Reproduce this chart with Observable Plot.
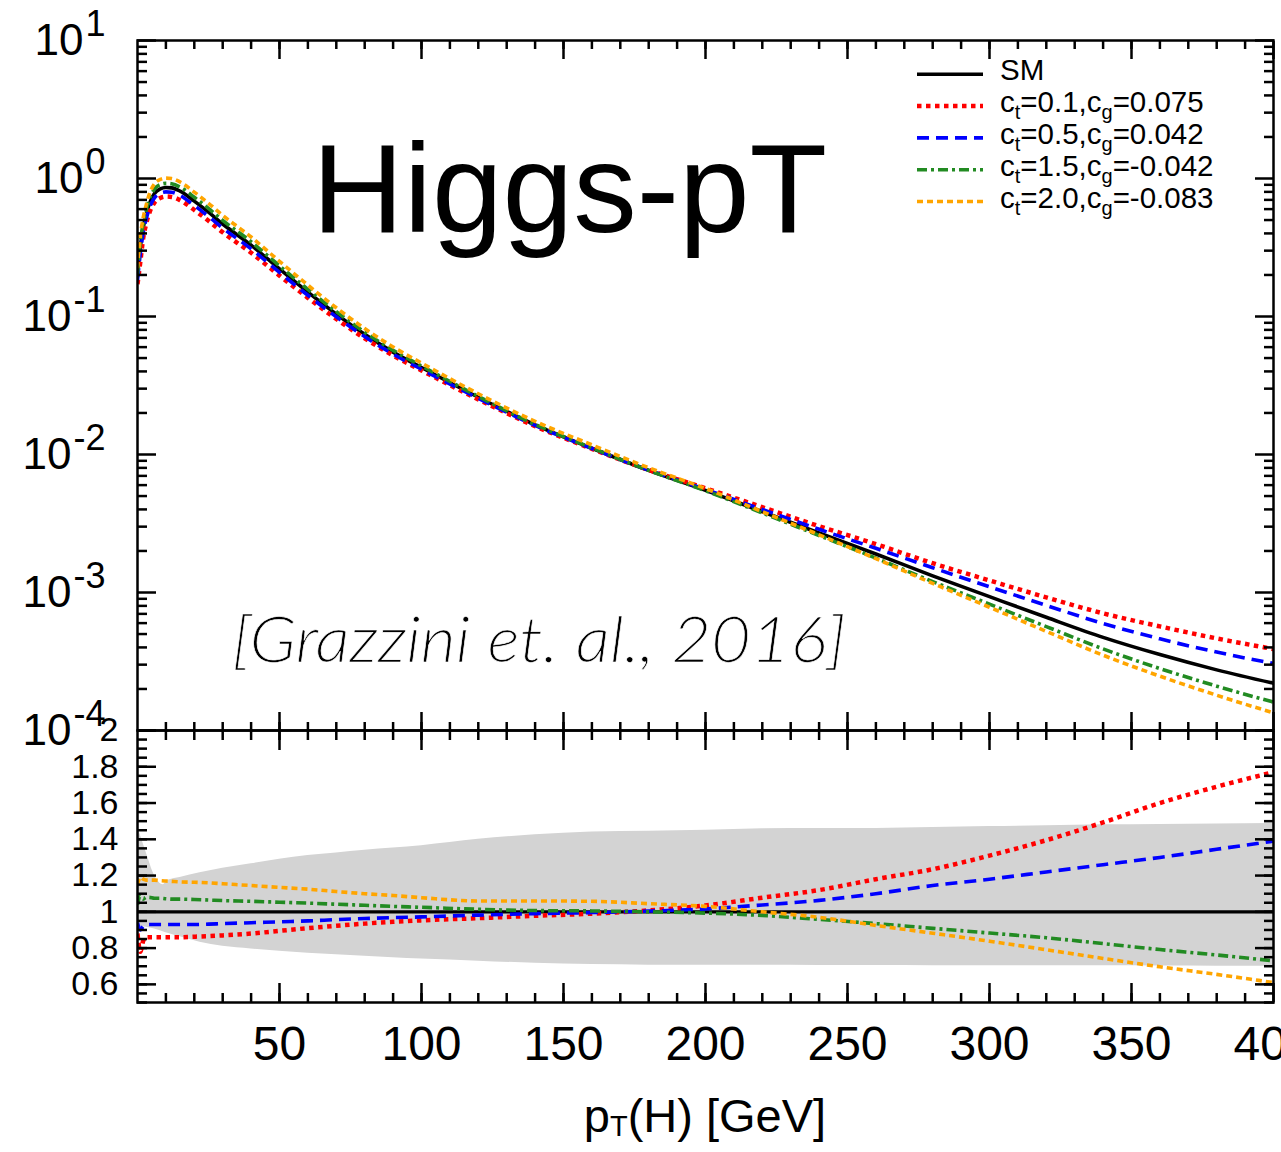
<!DOCTYPE html>
<html><head><meta charset="utf-8">
<script src="https://cdn.jsdelivr.net/npm/d3@7"></script>
<script src="https://cdn.jsdelivr.net/npm/@observablehq/plot@0.6"></script>
<style>
html,body{margin:0;padding:0;background:#fff;}
#wrap{position:relative;width:1281px;height:1152px;overflow:hidden;}
#wrap svg{position:absolute;left:0;}
</style></head><body><div id="wrap"></div>
<script>
// ---------- data ----------
const pT = [0,1,2,3,4,6,8,10,12,15,20,25,30,40,50,60,70,80,90,100,120,140,160,180,200,220,240,260,280,300,320,340,360,380,400];
const smXsec = [0.195,0.32,0.44,0.54,0.64,0.78,0.84,0.86,0.855,0.81,0.685,0.57,0.468,0.329,0.221,0.150,0.104,0.0743,0.0552,0.0427,0.0260,0.0164,0.0111,0.00767,0.0055,0.00385,0.0027,0.0019,0.00132,0.000933,0.000661,0.000473,0.000355,0.000275,0.00022];
const ratioRed = [0.88,0.78,0.84,0.86,0.86,0.86,0.86,0.86,0.86,0.86,0.863,0.866,0.87,0.88,0.895,0.91,0.923,0.935,0.945,0.953,0.965,0.978,0.99,1.008,1.035,1.078,1.12,1.18,1.235,1.31,1.395,1.493,1.6,1.69,1.77];
const ratioBlue = [0.94,0.9,0.92,0.93,0.93,0.93,0.93,0.93,0.93,0.93,0.93,0.932,0.935,0.94,0.945,0.95,0.957,0.963,0.968,0.972,0.982,0.99,0.996,1.004,1.016,1.038,1.063,1.10,1.145,1.18,1.22,1.26,1.3,1.345,1.39];
const ratioGreen = [1.04,1.09,1.07,1.08,1.08,1.075,1.075,1.072,1.07,1.07,1.068,1.065,1.062,1.058,1.053,1.048,1.042,1.036,1.03,1.025,1.014,1.007,1.005,1.0,0.993,0.98,0.958,0.935,0.909,0.883,0.857,0.825,0.792,0.762,0.73];
const ratioOrange = [1.15,1.19,1.18,1.175,1.175,1.175,1.172,1.17,1.168,1.165,1.163,1.16,1.155,1.145,1.135,1.125,1.112,1.1,1.09,1.078,1.06,1.06,1.058,1.045,1.03,1.0,0.97,0.925,0.882,0.838,0.791,0.743,0.697,0.655,0.61];

const bandPt = [0,3,6,9,11,15,22,30,40,50,60,70,80,90,100,120,140,160,180,200,220,240,260,280,300,320,340,360,380,400];
const bandHi = [1.47,1.33,1.2,1.15,1.175,1.19,1.215,1.24,1.265,1.29,1.31,1.325,1.34,1.352,1.365,1.4,1.425,1.44,1.445,1.45,1.458,1.46,1.46,1.465,1.47,1.475,1.48,1.482,1.485,1.487];
const bandLo = [0.92,0.915,0.905,0.89,0.88,0.862,0.832,0.81,0.795,0.782,0.772,0.763,0.755,0.747,0.74,0.728,0.716,0.709,0.706,0.705,0.705,0.704,0.704,0.703,0.703,0.702,0.702,0.701,0.70,0.70];

const ctVals = ["0.1","0.5","1.5","2.0"];
const cgVals = ["0.075","0.042","-0.042","-0.083"];

const xMajor = [50,100,150,200,250,300,350,400];
const yMajorTop = [1e-4,1e-3,1e-2,1e-1,1,10];
const yMajorBot = [0.6,0.8,1,1.2,1.4,1.6,1.8,2];
const xMinor = d3.range(10, 400, 10);
const yMinorTop = [-4,-3,-2,-1,0].flatMap(e => [2,3,4,5,6,7,8,9].map(k => k * Math.pow(10, e)));
const yMinorBot = d3.range(0.5, 2.001, 0.05);

// ---------- styles ----------
const FONT = '"Liberation Sans", Arial, Helvetica, sans-serif';
const W = 1281;
const styles = [
  {name: "red",    ratio: ratioRed,    color: "#ff0000", dash: "4.5,4.5",  width: 4.5},
  {name: "blue",   ratio: ratioBlue,   color: "#0000ff", dash: "12,7",     width: 3.6},
  {name: "green",  ratio: ratioGreen,  color: "#228b22", dash: "10,4,3,4", width: 3.6},
  {name: "orange", ratio: ratioOrange, color: "#ffa500", dash: "6,4",      width: 3.6}
];

const smRows = pT.map((x, i) => ({x, y: smXsec[i]}));
const bandRows = bandPt.map((x, i) => ({x, lo: bandLo[i], hi: bandHi[i]}));

function frameAxes(yMajor, yMinor, major, minor, sideMajor, sideMinor) {
  const tf = () => "";
  const o = {strokeWidth: 2.5, tickFormat: tf, fontSize: 1};
  return [
    Plot.frame({stroke: "black", strokeWidth: 2.5}),
    Plot.axisX({...o, anchor: "top", ticks: xMajor, tickSize: -major}),
    Plot.axisX({...o, anchor: "top", ticks: xMinor, tickSize: -minor}),
    Plot.axisX({...o, anchor: "bottom", ticks: xMajor, tickSize: -major}),
    Plot.axisX({...o, anchor: "bottom", ticks: xMinor, tickSize: -minor}),
    Plot.axisY({...o, anchor: "left", ticks: yMajor, tickSize: -sideMajor}),
    Plot.axisY({...o, anchor: "left", ticks: yMinor, tickSize: -sideMinor}),
    Plot.axisY({...o, anchor: "right", ticks: yMajor, tickSize: -sideMajor}),
    Plot.axisY({...o, anchor: "right", ticks: yMinor, tickSize: -sideMinor})
  ];
}

// ---------- top panel ----------
const topPlot = Plot.plot({
  width: W, height: 732, marginTop: 40, marginBottom: 2, marginLeft: 137, marginRight: 8,
  style: {background: "transparent", overflow: "visible", fontFamily: FONT, color: "black"},
  x: {domain: [0, 400], label: null},
  y: {type: "log", domain: [1e-4, 10], label: null},
  marks: [
    Plot.line(smRows, {x: "x", y: "y", stroke: "black", strokeWidth: 3.6, curve: "monotone-x", clip: true}),
    ...styles.map(s => Plot.line(pT.map((x, i) => ({x, y: smXsec[i] * s.ratio[i]})), {
      x: "x", y: "y", stroke: s.color, strokeWidth: s.width, strokeDasharray: s.dash,
      strokeLinecap: "butt", curve: "monotone-x", clip: true})),
    ...frameAxes(yMajorTop, yMinorTop, 18, 8, 19, 10),
    Plot.axisY({anchor: "left", ticks: yMajorTop, tickSize: 0, tickPadding: 32, fontSize: 44,
      tickFormat: d => String(Math.round(Math.log10(d)))})
  ]
});

// ---------- bottom (ratio) panel ----------
const botPlot = Plot.plot({
  width: W, height: 424, marginTop: 2, marginBottom: 150, marginLeft: 137, marginRight: 8,
  style: {background: "transparent", overflow: "visible", fontFamily: FONT, color: "black"},
  x: {domain: [0, 400], label: null},
  y: {domain: [0.5, 2], label: null},
  marks: [
    Plot.areaY(bandRows, {x: "x", y1: "lo", y2: "hi", fill: "#d3d3d3", curve: "monotone-x"}),
    Plot.ruleY([1], {stroke: "black", strokeWidth: 3.4}),
    ...styles.map(s => Plot.line(pT.map((x, i) => ({x, y: s.ratio[i]})), {
      x: "x", y: "y", stroke: s.color, strokeWidth: s.width, strokeDasharray: s.dash,
      strokeLinecap: "butt", curve: "monotone-x", clip: true})),
    ...frameAxes(yMajorBot, yMinorBot, 19, 9, 19, 10),
    Plot.axisY({anchor: "left", ticks: yMajorBot, tickSize: 0, tickPadding: 19, fontSize: 34,
      tickFormat: d => String(+d.toFixed(1))}),
    Plot.axisX({anchor: "bottom", ticks: xMajor, tickSize: 0, tickPadding: 23, fontSize: 48})
  ]
});

const wrap = document.getElementById("wrap");
topPlot.style.top = "0px";
botPlot.style.top = "728px";
wrap.appendChild(topPlot);
wrap.appendChild(botPlot);

// powers of ten on the log axis
d3.select(topPlot).selectAll('g[aria-label="y-axis tick label"] text').each(function () {
  const e = this.textContent;
  if (!e) return;
  const t = d3.select(this);
  t.text("10");
  t.append("tspan").attr("dx", 2).attr("dy", -19).attr("font-size", 36).text(e);
});

// ---------- annotations, legend, axis title ----------
const ov = d3.create("svg").attr("width", W).attr("height", 1152)
  .style("top", "0px").style("font-family", FONT).style("pointer-events", "none");

ov.append("text").attr("x", 312).attr("y", 232).attr("font-size", 127).attr("fill", "black").text("Higgs-pT");
ov.append("text").attr("x", 232).attr("y", 662).attr("font-size", 64)
  .attr("font-style", "italic").attr("font-weight", 300)
  .attr("font-family", "'Lato Light', Lato, 'Open Sans', sans-serif")
  .attr("fill", "black").attr("stroke", "white").attr("stroke-width", 0.6)
  .attr("textLength", 614).attr("lengthAdjust", "spacingAndGlyphs")
  .text("[Grazzini et. al., 2016]");

const legendItems = [{color: "black", dash: null, width: 3.4}].concat(
  styles.map((s, i) => ({color: s.color, dash: s.dash, width: s.width, ct: ctVals[i], cg: cgVals[i]})));
legendItems.forEach((it, i) => {
  const ly = 74.3 + 31.8 * i;
  const ln = ov.append("line").attr("x1", 917).attr("x2", 983).attr("y1", ly).attr("y2", ly)
    .attr("stroke", it.color).attr("stroke-width", it.width);
  if (it.dash) ln.attr("stroke-dasharray", it.dash);
  const t = ov.append("text").attr("x", 1000).attr("y", ly + 6).attr("font-size", 29.5).attr("fill", "black");
  if (i === 0) { t.text("SM"); return; }
  t.append("tspan").text("c");
  t.append("tspan").attr("font-size", 20).attr("dy", 7).text("t");
  t.append("tspan").attr("dy", -7).text("=" + it.ct + ",c");
  t.append("tspan").attr("font-size", 20).attr("dy", 7).text("g");
  t.append("tspan").attr("dy", -7).text("=" + it.cg);
});

const xl = ov.append("text").attr("x", 705).attr("y", 1132).attr("font-size", 47)
  .attr("text-anchor", "middle").attr("fill", "black");
xl.append("tspan").text("p");
xl.append("tspan").attr("font-size", 29).attr("dy", 4).text("T");
xl.append("tspan").attr("dy", -4).text("(H) [GeV]");

wrap.appendChild(ov.node());
</script>
</body></html>
